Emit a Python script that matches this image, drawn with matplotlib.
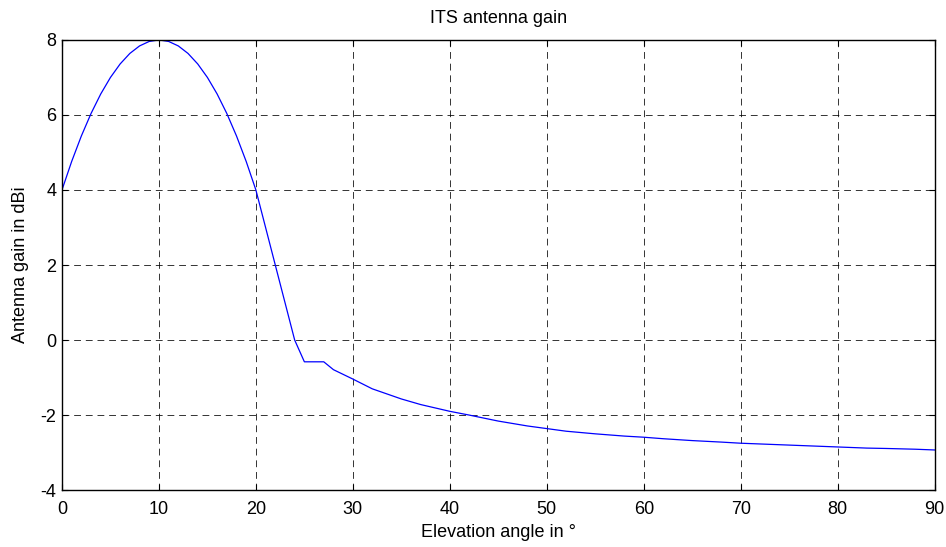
import matplotlib
matplotlib.use("Agg")
import matplotlib.pyplot as plt

# elevation angle (deg) and gain (dBi)
elevation = [0, 1, 2, 3, 4, 5, 6, 7, 8, 9, 10, 11, 12, 13, 14, 15, 16, 17, 18, 19, 20,
             21, 22, 23, 24, 25, 26, 27, 28, 30, 32, 33, 35, 37, 40, 42, 45, 48, 50,
             52, 55, 58, 60, 62, 65, 68, 70, 72, 75, 78, 80, 83, 85, 88, 90]
gain = [4.0, 4.76, 5.44, 6.04, 6.56, 7.0, 7.36, 7.64, 7.84, 7.96, 8.0, 7.96, 7.84, 7.64,
        7.36, 7.0, 6.56, 6.04, 5.44, 4.76, 4.0,
        3.0, 2.0, 1.0, 0.0, -0.58, -0.58, -0.58, -0.79, -1.04, -1.3, -1.39, -1.57,
        -1.72, -1.9, -2.0, -2.16, -2.29, -2.36, -2.43, -2.5, -2.56, -2.59, -2.63,
        -2.68, -2.72, -2.75, -2.77, -2.8, -2.83, -2.85, -2.88, -2.89, -2.91, -2.93]

xticks = list(range(0, 91, 10))
yticks = list(range(-4, 9, 2))

plt.rcParams["font.family"] = ["Liberation Sans", "DejaVu Sans"]
plt.rcParams["font.size"] = 13
plt.rcParams["axes.unicode_minus"] = False

fig = plt.figure(figsize=(9.46, 5.47), dpi=100)
ax = fig.add_axes([0.0655, 0.104, 0.9225, 0.823])

ax.plot(elevation, gain, color="blue", linewidth=0.9)

ax.set_xlim(0, 90)
ax.set_ylim(-4, 8)
ax.set_xticks(xticks)
ax.set_yticks(yticks)
ax.grid(True, color="black", linestyle=(0, (7, 5)), linewidth=0.7, alpha=0.8)
ax.tick_params(direction="in", top=True, right=True, length=4, width=0.8, pad=4)
ax.tick_params(axis="x", pad=8)
for s in ax.spines.values():
    s.set_linewidth(1.0)

ax.set_title("ITS antenna gain", fontsize=13, pad=12)
ax.set_xlabel("Elevation angle in \u00b0", labelpad=4)
ax.set_ylabel("Antenna gain in dBi", labelpad=8)

fig.savefig("out.png", dpi=100)
